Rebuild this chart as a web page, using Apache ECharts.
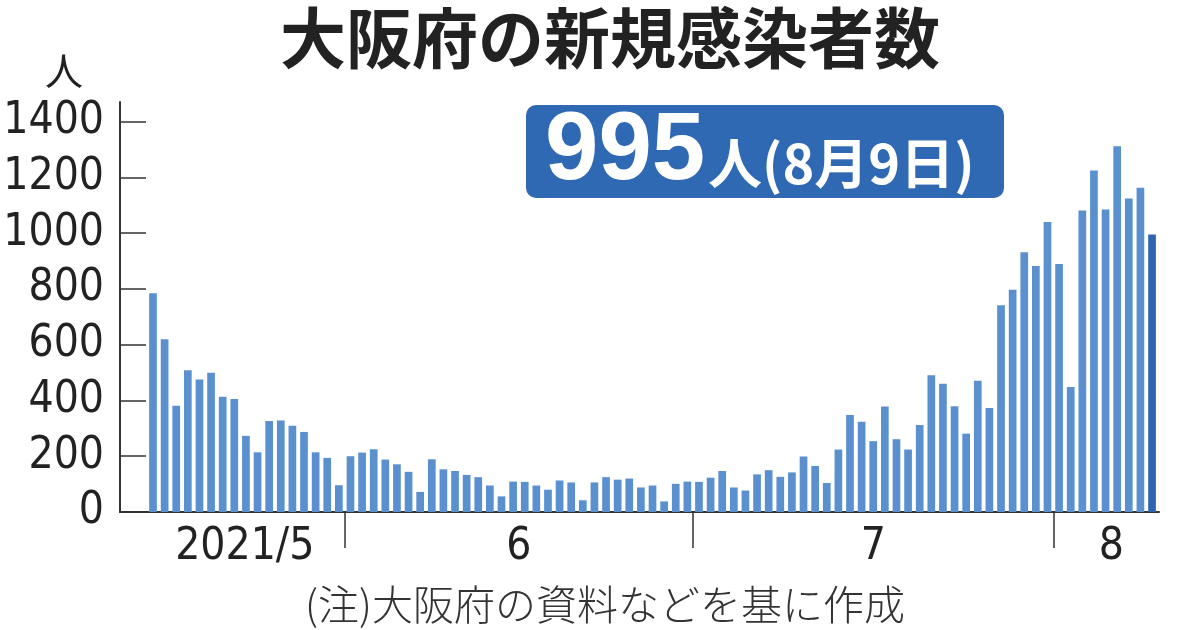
<!DOCTYPE html>
<html>
<head>
<meta charset="utf-8">
<script src="https://cdn.jsdelivr.net/npm/echarts@6/dist/echarts.min.js"></script>
<style>
  html, body { margin: 0; padding: 0; background: #fff; }
  #chart { width: 1200px; height: 630px; }
</style>
</head>
<body>
<div id="chart"></div>
<script>
// daily new cases, Osaka
var mayCases = [784, 619, 381, 508, 475, 499, 413, 405, 273, 214, 326, 328, 309, 287, 214, 194, 96]; // from 5/15
var juneCases = [200, 213, 225, 188, 171, 144, 72, 189, 153, 147, 133, 125, 95, 56, 109,
                 108, 95, 80, 113, 106, 42, 106, 125, 116, 120, 88, 95, 38, 101, 109];
var julyCases = [108, 123, 147, 88, 77, 135, 150, 126, 142, 199, 165, 104, 224, 348, 324, 254,
                 378, 261, 224, 312, 490, 460, 379, 281, 471, 373, 741, 797, 931, 882, 1040];
var augCases = [889, 448, 1081, 1224, 1085, 1311, 1124, 1163, 995];

var months = [
  { month: 4, firstDay: 15, values: mayCases },
  { month: 5, firstDay: 1, values: juneCases },
  { month: 6, firstDay: 1, values: julyCases },
  { month: 7, firstDay: 1, values: augCases }
];

var yTicks = [0, 200, 400, 600, 800, 1000, 1200, 1400];
var monthLabels = ['2021/5', '6', '7', '8'];
// x axis is in days counted from 5/15
var monthLabelDays = [7.9, 31.5, 62, 82.5];
var monthBreakDays = [16.5, 46.5, 77.5];

var barColor = '#5b90cf';
var lastColor = '#2f64ae';
var axisFont = '"DejaVu Sans Condensed", "DejaVu Sans", sans-serif';

var DAY = 86400000;
var start = Date.UTC(2021, 4, 15);
var seriesData = [];
months.forEach(function (m) {
  m.values.forEach(function (v, i) {
    var day = Math.round((Date.UTC(2021, m.month, m.firstDay + i) - start) / DAY);
    seriesData.push([day, v]);
  });
});
var lastPoint = seriesData.pop();
seriesData.push({ value: lastPoint, itemStyle: { color: lastColor } });

var myChart = echarts.init(document.getElementById('chart'));
option = {
  animation: false,
  grid: {
    left: 120,
    right: 41,
    top: 102,
    bottom: 118,
    outerBoundsMode: 'none'
  },
  xAxis: {
    type: 'value',
    min: -2.84,
    max: 86.6,
    splitLine: { show: false },
    axisLine: {
      show: true,
      onZero: false,
      lineStyle: { color: '#333', width: 2 }
    },
    axisTick: {
      show: true,
      inside: false,
      length: 36,
      customValues: monthBreakDays,
      lineStyle: { color: '#333', width: 1.5 }
    },
    axisLabel: {
      show: true,
      customValues: monthLabelDays,
      margin: 14,
      fontFamily: axisFont,
      fontSize: 44,
      color: '#222',
      formatter: function (val) {
        var idx = monthLabelDays.indexOf(val);
        return idx >= 0 ? monthLabels[idx] : '';
      }
    }
  },
  yAxis: {
    type: 'value',
    min: 0,
    max: 1470,
    splitLine: { show: false },
    axisLine: {
      show: true,
      onZero: false,
      lineStyle: { color: '#333', width: 2 }
    },
    axisTick: {
      show: true,
      inside: true,
      length: 26,
      customValues: yTicks,
      lineStyle: { color: '#333', width: 1.5 }
    },
    axisLabel: {
      customValues: yTicks,
      margin: 16,
      fontFamily: axisFont,
      fontSize: 44,
      color: '#222',
      formatter: function (val) { return String(val); }
    }
  },
  series: [
    {
      type: 'bar',
      barWidth: 7.7,
      itemStyle: { color: barColor },
      data: seriesData
    }
  ],
  graphic: [
    {
      type: 'text',
      style: {
        text: '大阪府の新規感染者数',
        x: 610, y: 38,
        align: 'center', verticalAlign: 'middle',
        font: 'bold 66px "Noto Sans CJK JP"',
        fill: '#222'
      }
    },
    {
      type: 'text',
      style: {
        text: '人',
        x: 64, y: 71,
        align: 'center', verticalAlign: 'middle',
        font: '38px "Noto Sans CJK JP"',
        fill: '#222'
      }
    },
    {
      type: 'rect',
      shape: { x: 526, y: 105, width: 478, height: 93, r: 10 },
      style: { fill: '#3069b3' }
    },
    {
      type: 'text',
      style: {
        text: '995',
        x: 545, y: 153,
        align: 'left', verticalAlign: 'middle',
        font: 'bold 96px "Liberation Sans"',
        fill: '#fff'
      }
    },
    {
      type: 'text',
      style: {
        text: '人(8月9日)',
        x: 708, y: 163,
        align: 'left', verticalAlign: 'middle',
        font: 'bold 54px "Noto Sans CJK JP"',
        fill: '#fff'
      }
    },
    {
      type: 'text',
      style: {
        text: '(注)大阪府の資料などを基に作成',
        x: 605, y: 604,
        align: 'center', verticalAlign: 'middle',
        font: '300 41px "Noto Sans CJK JP"',
        fill: '#333'
      }
    }
  ]
};

myChart.setOption(option);
</script>
</body>
</html>
